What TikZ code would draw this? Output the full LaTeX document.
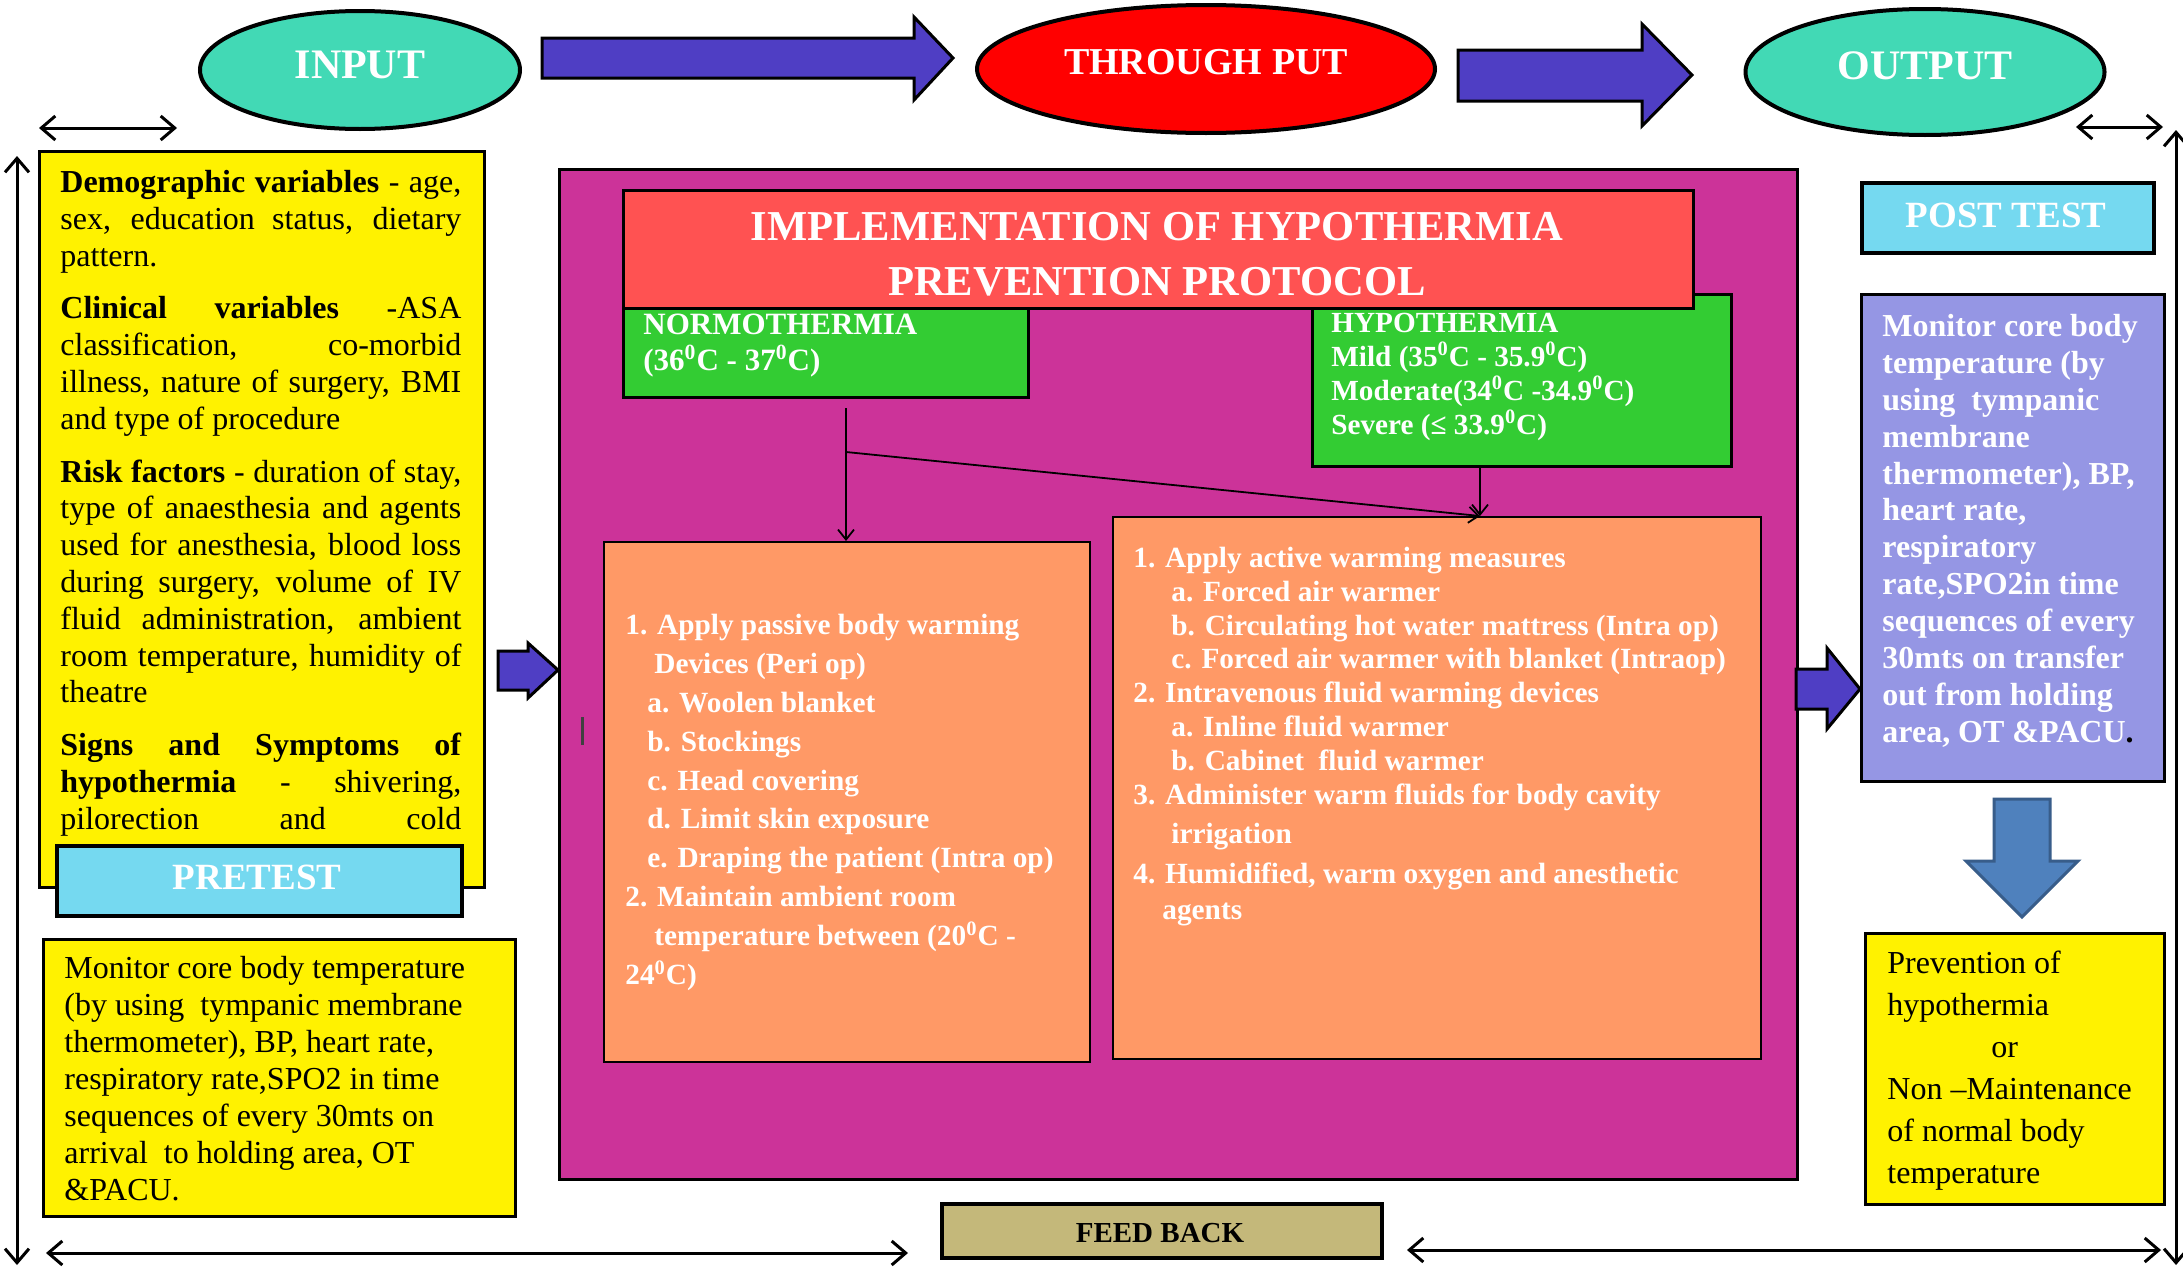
\documentclass[tikz,border=0pt]{standalone}
\usepackage{fontspec}
\setmainfont{Liberation Serif}
\usetikzlibrary{arrows.meta,shapes.geometric}
\definecolor{tealoval}{RGB}{66,217,181}
\definecolor{arrowpurple}{RGB}{79,62,196}
\definecolor{magbox}{RGB}{204,51,153}
\definecolor{titlered}{RGB}{255,82,82}
\definecolor{greenbox}{RGB}{51,204,51}
\definecolor{orangebox}{RGB}{255,153,102}
\definecolor{cyanbox}{RGB}{117,217,240}
\definecolor{lavbox}{RGB}{149,150,228}
\definecolor{khakibox}{RGB}{196,184,122}
\definecolor{officeblue}{RGB}{79,129,189}
\definecolor{officeblueline}{RGB}{56,93,138}
\newcommand\topstr[1]{\rule{0pt}{#1}}
\begin{document}
\begin{tikzpicture}[x=0.5pt,y=-0.5pt,
  box/.style={draw=black,line width=1.5pt,inner sep=0pt,anchor=north west},
  oval/.style={ellipse,draw=black,line width=2pt,fill=tealoval,inner sep=0pt},
  blockarrow/.style={draw=black,line width=1.5pt,fill=arrowpurple,line join=miter},
  feedline/.style={line width=1.5pt,{Straight Barb[length=7pt,width=12pt]}-{Straight Barb[length=7pt,width=12pt]}},
  conn/.style={line width=0.9pt,-{Straight Barb[length=5pt,width=8pt]}},
  txt/.style={inner sep=0pt,anchor=north west,align=left},
  lbl/.style={inner sep=0pt,anchor=base},
]
\useasboundingbox (0,0) rectangle (2183,1269);
\fill[white] (0,0) rectangle (2183,1269);

% top ovals
\node[oval,minimum width=160pt,minimum height=59pt] (input) at (360,70) {};
\node[oval,fill=red,minimum width=229pt,minimum height=64pt] (thru) at (1206,69) {};
\node[oval,minimum width=179.5pt,minimum height=63pt] (output) at (1925,72) {};
\node[lbl,text=white,font=\fontsize{21}{24}\selectfont\bfseries] (inputtxt) at (360,78) {INPUT};
\node[lbl,text=white,font=\fontsize{19}{22}\selectfont\bfseries] (thrutxt) at (1206,74) {THROUGH PUT};
\node[lbl,text=white,font=\fontsize{21}{24}\selectfont\bfseries] (outputtxt) at (1925,79) {OUTPUT};

% top block arrows
\draw[blockarrow] (542,38) -- (914,38) -- (914,17) -- (953,58) -- (914,100) -- (914,78) -- (542,78) -- cycle;
\draw[blockarrow] (1458,50) -- (1642,50) -- (1642,24) -- (1692,75) -- (1642,126) -- (1642,101) -- (1458,101) -- cycle;

% left input box
\node[box,fill=yellow,minimum width=222.5pt,minimum height=368pt] (inbox) at (38,150) {};
\node[inner sep=0pt,anchor=north west,text width=200.5pt,align=justify,
      font=\fontsize{16}{18.4}\selectfont\setlength\parskip{8pt}\setlength\parindent{0pt}] (intext) at (60,162)
{\noindent\topstr{15pt}\textbf{Demographic variables} - age,\linebreak sex, education status, dietary\linebreak pattern.\par
\textbf{Clinical variables} -ASA\linebreak classification, co-morbid\linebreak illness, nature of surgery, BMI\linebreak and type of procedure\par
\textbf{Risk factors} - duration of stay,\linebreak type of anaesthesia and agents\linebreak used for anesthesia, blood loss\linebreak during surgery, volume of IV\linebreak fluid administration, ambient\linebreak room temperature, humidity of\linebreak theatre\par
\textbf{Signs and Symptoms of}\linebreak \textbf{hypothermia} - shivering,\linebreak \makebox[200.5pt][s]{pilorection and cold}\par};
\node[box,fill=cyanbox,line width=1.8pt,minimum width=202.5pt,minimum height=35pt] (pretest) at (55,844) {};
\node[lbl,text=white,font=\fontsize{18.5}{20}\selectfont\bfseries] (pretesttxt) at (257,889) {PRETEST};

% lower left box
\node[box,fill=yellow,minimum width=236pt,minimum height=138.5pt] (prebox) at (42,938) {};
\node[txt,font=\fontsize{16}{18.5}\selectfont] (pretext) at (64,948)
{\topstr{15pt}Monitor core body temperature\\
(by using~ tympanic membrane\\
thermometer), BP, heart rate,\\
respiratory rate,SPO2 in time\\
sequences of every 30mts on\\
arrival~ to holding area, OT\\
\&PACU.};

% central purple box
\node[box,fill=magbox,minimum width=619pt,minimum height=505pt] (through) at (558,168) {};
\draw[blockarrow] (498,651) -- (528,651) -- (528,643) -- (558,670) -- (528,698) -- (528,690) -- (498,690) -- cycle;
\draw[line width=1.5pt,black!75] (582,717) -- (582,745);

\node[box,fill=greenbox,minimum width=202.5pt,minimum height=46.5pt] (normo) at (622,303) {};
\node[box,fill=greenbox,minimum width=209.5pt,minimum height=86pt] (hypo) at (1311,293) {};
\node[box,fill=titlered,minimum width=535pt,minimum height=59pt] (title) at (622,189) {};
\node[inner sep=0pt,anchor=north,align=center,text=white,font=\fontsize{21.3}{27.5}\selectfont\bfseries] (titletxt) at (1157,200)
{\topstr{20pt}IMPLEMENTATION OF HYPOTHERMIA\\PREVENTION PROTOCOL};
\node[txt,text=white,font=\fontsize{15.5}{18}\selectfont\bfseries] (normotxt) at (643,306)
{\topstr{14pt}NORMOTHERMIA\\(36\textsuperscript{0}C - 37\textsuperscript{0}C)};
\node[txt,text=white,font=\fontsize{14.6}{17}\selectfont\bfseries] (hypotxt) at (1331,304)
{\topstr{14pt}HYPOTHERMIA\\
Mild (35\textsuperscript{0}C - 35.9\textsuperscript{0}C)\\
Moderate(34\textsuperscript{0}C -34.9\textsuperscript{0}C)\\
Severe (≤ 33.9\textsuperscript{0}C)};

\node[box,fill=orangebox,line width=1.2pt,minimum width=243pt,minimum height=260pt] (passive) at (603,541) {};
\node[box,fill=orangebox,line width=1.2pt,minimum width=324pt,minimum height=271pt] (active) at (1112,516) {};
\node[txt,text=white,font=\fontsize{14.65}{19.45}\selectfont\bfseries] (passivetxt) at (625,606)
{\topstr{14pt}1. Apply passive body warming\\
\hspace*{14.5pt}Devices (Peri op)\\
\hspace*{11pt}a. Woolen blanket\\
\hspace*{11pt}b. Stockings\\
\hspace*{11pt}c. Head covering\\
\hspace*{11pt}d. Limit skin exposure\\
\hspace*{11pt}e. Draping the patient (Intra op)\\
2. Maintain ambient room\\
\hspace*{14.5pt}temperature between (20\textsuperscript{0}C -\\
24\textsuperscript{0}C)};
\node[txt,text=white,font=\fontsize{14.65}{16.9}\selectfont\bfseries] (activetxt) at (1133,539)
{\topstr{14pt}1. Apply active warming measures\\
\hspace*{19pt}a. Forced air warmer\\
\hspace*{19pt}b. Circulating hot water mattress (Intra op)\\
\hspace*{19pt}c. Forced air warmer with blanket (Intraop)\\
2. Intravenous fluid warming devices\\
\hspace*{19pt}a. Inline fluid warmer\\
\hspace*{19pt}b. Cabinet~ fluid warmer\\
3. Administer warm fluids for body cavity\\[2.6pt]
\hspace*{19pt}irrigation\\[3.1pt]
4. Humidified, warm oxygen and anesthetic\\[1.1pt]
\hspace*{14.5pt}agents};

% internal connectors
\coordinate (c1) at (846,408);
\coordinate (c2) at (846,452);
\coordinate (rtop) at (1480,516);
\draw[conn] (c1) -- (c1 |- passive.north);
\draw[conn] (c2) -- (rtop);
\draw[conn] (hypo.south -| rtop) -- (rtop);

% right side
\node[box,fill=cyanbox,line width=1.8pt,minimum width=146pt,minimum height=35pt] (posttest) at (1860,181) {};
\node[lbl,text=white,font=\fontsize{18.5}{20}\selectfont\bfseries] (posttesttxt) at (2006,227) {POST TEST};
\node[box,fill=lavbox,minimum width=151.5pt,minimum height=243.5pt] (postbox) at (1860,293) {};
\node[txt,text=white,font=\fontsize{16}{18.45}\selectfont\bfseries] (posttext) at (1882,306)
{\topstr{15pt}Monitor core body\\
temperature (by\\
using~ tympanic\\
membrane\\
thermometer), BP,\\
heart rate,\\
respiratory\\
rate,SPO2in time\\
sequences of every\\
30mts on transfer\\
out from holding\\
area, OT \&PACU{\color{black}.}};
\draw[blockarrow] (1796,669) -- (1827,669) -- (1827,648) -- (1860,689) -- (1827,729) -- (1827,709) -- (1796,709) -- cycle;
\draw[fill=officeblue,draw=officeblueline,line width=1.5pt,line join=miter] (1994,799) -- (2050,799) -- (2050,861) -- (2078,861) -- (2022,917) -- (1966,861) -- (1994,861) -- cycle;
\node[box,fill=yellow,minimum width=149.5pt,minimum height=135.5pt] (outcome) at (1864,932) {};
\node[txt,font=\fontsize{16}{21}\selectfont] (outcometxt) at (1887,943)
{\topstr{15pt}Prevention of\\
hypothermia\\
\hspace*{52pt}or\\
Non –Maintenance\\
of normal body\\
temperature};

% feedback
\node[box,fill=khakibox,line width=1.8pt,minimum width=220pt,minimum height=27pt] (feedback) at (940,1202) {};
\node[lbl,font=\fontsize{14.5}{16}\selectfont\bfseries] (feedbacktxt) at (1160,1242) {FEED BACK};

\coordinate (tl1) at (39,128); \coordinate (tl2) at (177,128);
\coordinate (tr1) at (2076,127); \coordinate (tr2) at (2163,127);
\coordinate (lv1) at (17,156); \coordinate (lv2) at (17,1265);
\coordinate (rv1) at (2176,130); \coordinate (rv2) at (2176,1265);
\coordinate (bl1) at (46,1253); \coordinate (bl2) at (908,1253);
\coordinate (br1) at (1407,1250); \coordinate (br2) at (2161,1250);
\draw[feedline] (tl1) -- (tl2);
\draw[feedline] (tr1) -- (tr2);
\draw[feedline] (lv1) -- (lv2);
\draw[feedline] (rv1) -- (rv2);
\draw[feedline] (bl1) -- (bl2);
\draw[feedline] (br1) -- (br2);
\end{tikzpicture}
\end{document}
